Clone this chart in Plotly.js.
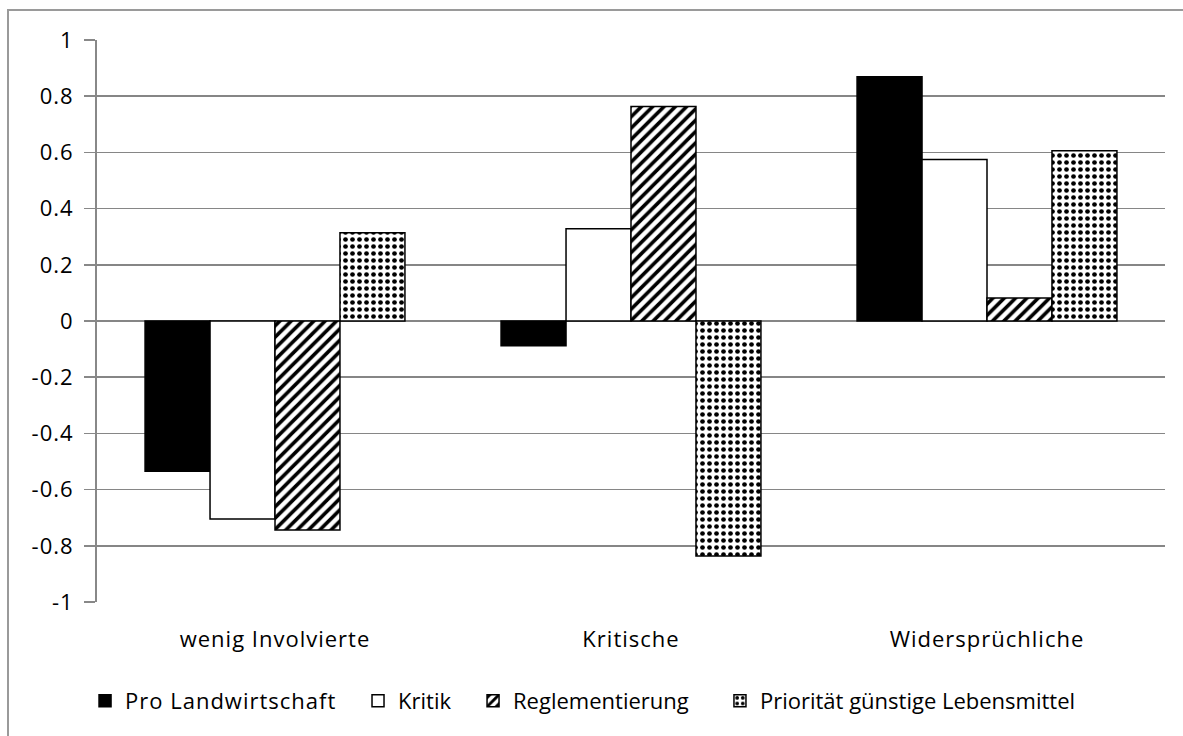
<!DOCTYPE html>
<html><head><meta charset="utf-8">
<script src="https://cdn.plot.ly/plotly-3.0.1.min.js"></script>
<style>
html,body{margin:0;padding:0;background:#fff;overflow:hidden;}
#frame{position:absolute;left:7px;top:9px;width:1400px;height:1000px;border:2px solid #9a9a9a;pointer-events:none;}
#chart{position:absolute;left:0;top:0;width:1183px;height:736px;}
#chart .xtick text, #chart .ytick text{letter-spacing:1px;}
text.legendtext{letter-spacing:1px;}
</style></head><body>
<div id="frame"></div>
<div id="chart"></div>
<script>
const categories = ['wenig Involvierte', 'Kritische', 'Widersprüchliche'];
const seriesNames = ['Pro Landwirtschaft', 'Kritik', 'Reglementierung', 'Priorität günstige Lebensmittel'];
const proLandwirtschaft = [-0.535, -0.088, 0.869];
const kritik = [-0.705, 0.328, 0.575];
const reglementierung = [-0.744, 0.763, 0.082];
const prioritaet = [0.314, -0.836, 0.606];
const yTickVals = [-1, -0.8, -0.6, -0.4, -0.2, 0, 0.2, 0.4, 0.6, 0.8, 1];
const yTickText = ['-1', '-0.8', '-0.6', '-0.4', '-0.2', '0', '0.2', '0.4', '0.6', '0.8', '1'];
const boundaryTicks = [-0.5, 0.5, 1.5, 2.5];

const outline = {color: '#000', width: 1.5};
const traces = [
  {type: 'bar', name: seriesNames[0], x: categories, y: proLandwirtschaft, legend: 'legend',
   marker: {color: '#000', line: outline}},
  {type: 'bar', name: seriesNames[1], x: categories, y: kritik, legend: 'legend2',
   marker: {color: '#fff', line: outline}},
  {type: 'bar', name: seriesNames[2], x: categories, y: reglementierung, legend: 'legend3',
   marker: {color: '#fff', line: outline,
            pattern: {shape: '/', fgcolor: '#000', bgcolor: '#fff', size: 8, solidity: 0.45}}},
  {type: 'bar', name: seriesNames[3], x: categories, y: prioritaet, legend: 'legend4',
   marker: {color: '#fff', line: outline,
            pattern: {shape: '.', fgcolor: '#000', bgcolor: '#fff', size: 7, solidity: 0.36}}}
];

function legendAt(px) {
  return {orientation: 'h', x: px, xanchor: 'left', y: -0.176, yanchor: 'middle',
          font: {size: 22, color: '#000'}, bgcolor: 'rgba(0,0,0,0)'};
}

const layout = {
  width: 1183, height: 736,
  margin: {l: 97, r: 18, t: 40, b: 134},
  paper_bgcolor: 'rgba(0,0,0,0)', plot_bgcolor: 'rgba(0,0,0,0)',
  font: {family: '"Open Sans", sans-serif', size: 22, color: '#000'},
  barmode: 'group', bargap: 0.27, bargroupgap: 0,
  showlegend: true,
  legend: legendAt(-0.0112),
  legend2: legendAt(0.2444),
  legend3: legendAt(0.3521),
  legend4: legendAt(0.5833),
  xaxis: {type: 'category', range: [-0.5, 2.5], showline: false, ticks: '', showgrid: false,
          zeroline: false, tickfont: {size: 22}, ticklabelstandoff: 22, fixedrange: true},
  xaxis2: {overlaying: 'x', anchor: 'free', position: 0.5, type: 'linear', range: [-0.5, 2.5],
           tickmode: 'array', tickvals: boundaryTicks, showticklabels: false, ticks: 'outside',
           ticklen: 8, tickwidth: 1.5, tickcolor: '#888', showline: true, linecolor: '#888',
           linewidth: 2, showgrid: false, zeroline: false, side: 'bottom'},
  yaxis: {range: [-1, 1], tickmode: 'array', tickvals: yTickVals, ticktext: yTickText,
          showgrid: true, gridcolor: '#868686', gridwidth: 1.5, zeroline: false,
          showline: true, linecolor: '#888', linewidth: 2, ticks: 'outside', ticklen: 11,
          tickwidth: 1.5, tickcolor: '#888', ticklabelstandoff: 6, tickfont: {size: 22}}
};

Plotly.newPlot('chart', traces, layout, {displayModeBar: false, staticPlot: true});
</script>
</body></html>
